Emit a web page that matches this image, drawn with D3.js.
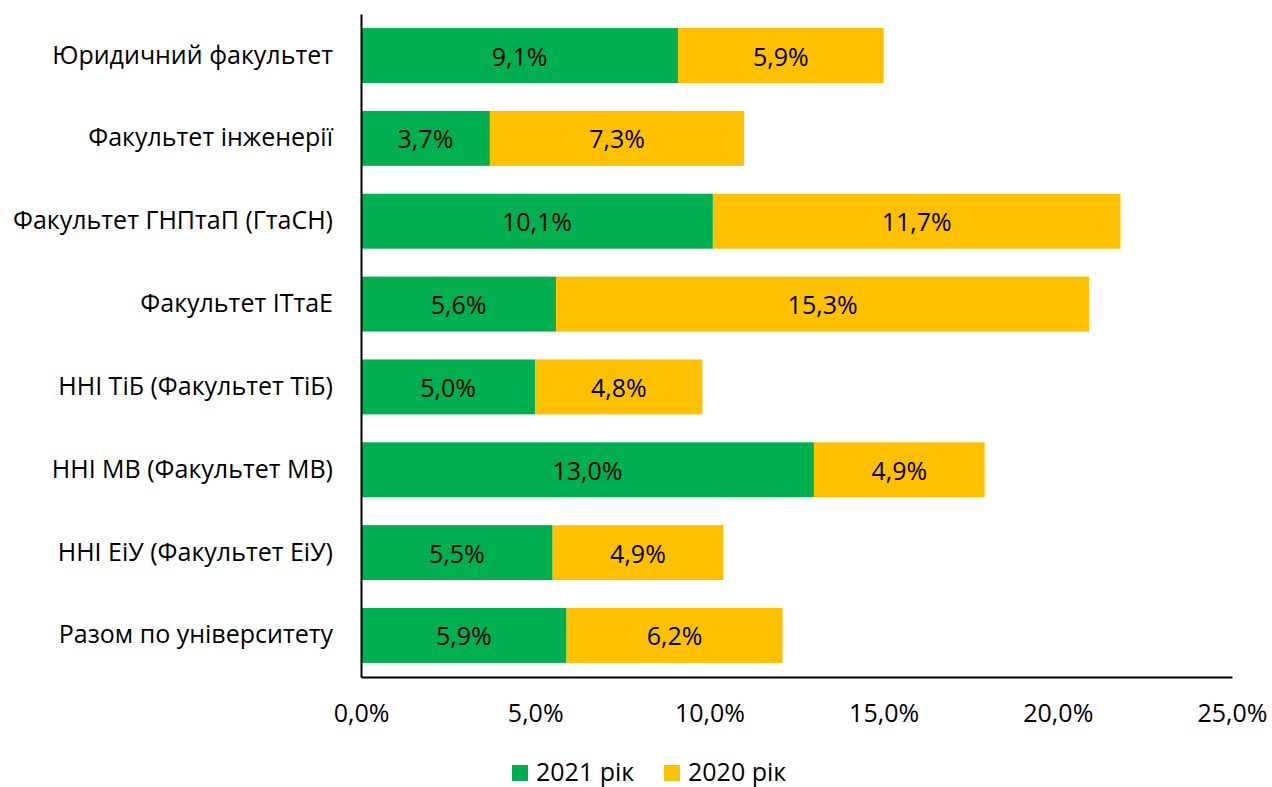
<!DOCTYPE html>
<html>
<head>
<meta charset="utf-8">
<script src="https://cdn.jsdelivr.net/npm/d3@7"></script>
<style>
  body { margin: 0; background: #fff; }
  text { font-family: "Open Sans", "Noto Sans", sans-serif; fill: #000; }
</style>
</head>
<body>
<svg></svg>
<script>
var width = 1272;
var height = 787;

var categories = [
  "Юридичний факультет",
  "Факультет інженерії",
  "Факультет ГНПтаП (ГтаСН)",
  "Факультет ІТтаЕ",
  "ННІ ТіБ (Факультет ТіБ)",
  "ННІ МВ (Факультет МВ)",
  "ННІ ЕіУ (Факультет ЕіУ)",
  "Разом по університету"
];
var values2021 = [9.1, 3.7, 10.1, 5.6, 5.0, 13.0, 5.5, 5.9];
var values2020 = [5.9, 7.3, 11.7, 15.3, 4.8, 4.9, 4.9, 6.2];
var xTicks = [0, 5, 10, 15, 20, 25];

var seriesNames = ["2021 рік", "2020 рік"];
var colors = ["#00B050", "#FFC000"];

var rows = categories.map((c, i) => ({ name: c, v2021: values2021[i], v2020: values2020[i] }));
var stack = d3.stack().keys(["v2021", "v2020"])(rows);

var svg = d3.select("svg")
  .attr("width", width)
  .attr("height", height);

var x = d3.scaleLinear().domain([0, 25]).range([361, 1232]);
var y = d3.scaleBand().domain(categories).range([14, 677]).paddingInner(0.337).paddingOuter(0.17);

var fmt = v => v.toFixed(1).replace(".", ",") + "%";
var fontSize = "25px";

svg.selectAll("g.series")
  .data(stack)
  .enter()
  .append("g")
    .attr("fill", (d, i) => colors[i])
  .selectAll("rect")
  .data(d => d)
  .enter()
  .append("rect")
    .attr("x", d => x(d[0]))
    .attr("y", d => y(d.data.name))
    .attr("width", d => x(d[1]) - x(d[0]))
    .attr("height", y.bandwidth());

// value labels centred in each segment
svg.selectAll("g.labels")
  .data(stack)
  .enter()
  .append("g")
  .selectAll("text")
  .data(d => d)
  .enter()
  .append("text")
    .attr("x", d => (x(d[0]) + x(d[1])) / 2)
    .attr("y", d => y(d.data.name) + y.bandwidth() / 2)
    .attr("text-anchor", "middle")
    .attr("dominant-baseline", "central")
    .style("font-size", fontSize)
    .text(d => fmt(d[1] - d[0]));

// y axis
var yAxis = svg.append("g")
  .attr("transform", "translate(361,0)")
  .call(d3.axisLeft(y).tickSize(0).tickPadding(28));
yAxis.select(".domain").attr("stroke", "#000").attr("stroke-width", 2);
yAxis.selectAll("text").style("font-size", fontSize);

// x axis
var xAxis = svg.append("g")
  .attr("transform", "translate(0,677)")
  .call(d3.axisBottom(x).tickValues(xTicks).tickSize(0).tickPadding(27).tickFormat(fmt));
xAxis.select(".domain").attr("stroke", "#000").attr("stroke-width", 2);
xAxis.selectAll("text").style("font-size", fontSize);

// legend
var legend = svg.append("g");
var legendX = [512, 664];
seriesNames.forEach((n, i) => {
  legend.append("rect")
    .attr("x", legendX[i]).attr("y", 765)
    .attr("width", 16).attr("height", 16)
    .attr("fill", colors[i]);
  legend.append("text")
    .attr("x", legendX[i] + 24).attr("y", 771)
    .attr("dominant-baseline", "central")
    .style("font-size", fontSize)
    .text(n);
});
</script>
</body>
</html>
